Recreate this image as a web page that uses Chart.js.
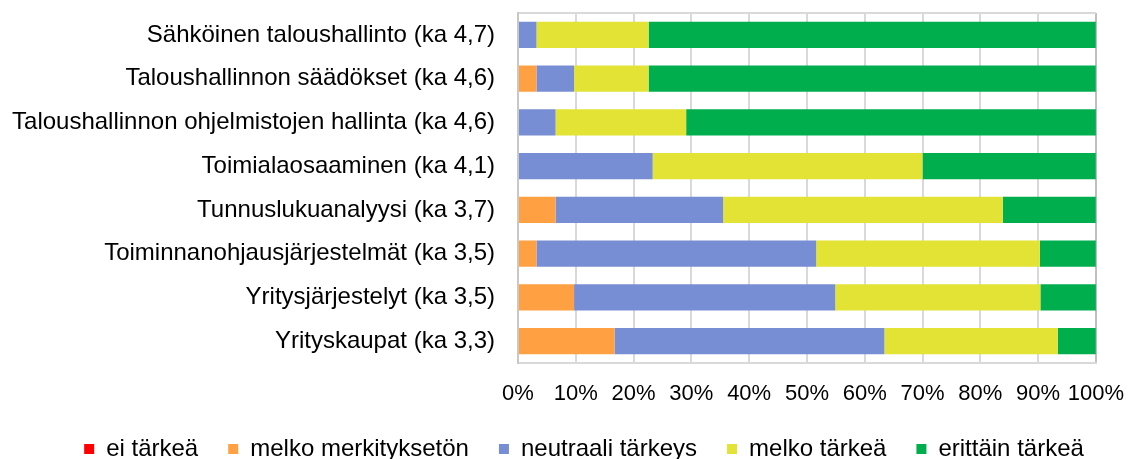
<!DOCTYPE html>
<html>
<head>
<meta charset="utf-8">
<script src="https://cdn.jsdelivr.net/npm/chart.js@4/dist/chart.umd.min.js"></script>
<style>
  html, body { margin: 0; padding: 0; background: #fff; }
  #wrap { width: 1142px; height: 459px; }
</style>
</head>
<body>
<div id="wrap"><canvas id="c" width="1142" height="459"></canvas></div>
<script>
const categories = [
  'Sähköinen taloushallinto (ka 4,7)',
  'Taloushallinnon säädökset (ka 4,6)',
  'Taloushallinnon ohjelmistojen hallinta (ka 4,6)',
  'Toimialaosaaminen (ka 4,1)',
  'Tunnuslukuanalyysi (ka 3,7)',
  'Toiminnanohjausjärjestelmät (ka 3,5)',
  'Yritysjärjestelyt (ka 3,5)',
  'Yrityskaupat (ka 3,3)'
];
const seriesNames = ['ei tärkeä', 'melko merkityksetön', 'neutraali tärkeys', 'melko tärkeä', 'erittäin tärkeä'];
const eiTarkea           = [0, 0, 0, 0, 0, 0, 0, 0];
const melkoMerkitykseton = [0, 3.2, 0, 0, 6.5, 3.2, 9.7, 16.7];
const neutraaliTarkeys   = [3.2, 6.5, 6.5, 23.3, 29.0, 48.4, 45.2, 46.7];
const melkoTarkea        = [19.4, 12.9, 22.6, 46.7, 48.4, 38.7, 35.5, 30.0];
const erittainTarkea     = [77.4, 77.4, 71.0, 30.0, 16.1, 9.7, 9.7, 6.6];
const tickValues = [0, 10, 20, 30, 40, 50, 60, 70, 80, 90, 100];

const colors = ['#FF0000', '#FFA043', '#788ED4', '#E3E336', '#00AE4E'];
const seriesData = [eiTarkea, melkoMerkitykseton, neutraaliTarkeys, melkoTarkea, erittainTarkea];
const FONT = "'Liberation Sans', Arial, sans-serif";

const legendShift = {
  id: 'legendShift',
  afterLayout(chart) {
    const lg = chart.legend;
    if (!lg) return;
    lg.left += 35; lg.right += 35;
  }
};

new Chart(document.getElementById('c'), {
  type: 'bar',
  data: {
    labels: categories,
    datasets: seriesNames.map((n, i) => ({
      label: n,
      data: seriesData[i],
      backgroundColor: colors[i],
      borderWidth: 0,
      categoryPercentage: 1,
      barPercentage: 0.595
    }))
  },
  plugins: [legendShift],
  options: {
    indexAxis: 'y',
    responsive: false,
    animation: false,
    devicePixelRatio: 1,
    layout: { padding: { left: 0, right: 44, top: 13, bottom: -12 } },
    plugins: {
      tooltip: { enabled: false },
      legend: {
        position: 'bottom',
        labels: {
          boxWidth: 10,
          boxHeight: 10,
          padding: 30,
          color: '#000',
          font: { family: FONT, size: 24 }
        }
      }
    },
    scales: {
      x: {
        stacked: true,
        min: 0,
        max: 100,
        afterBuildTicks: s => { s.ticks = tickValues.map(v => ({ value: v })); },
        afterFit: s => { s.height = 44; },
        grid: {
          color: c => (c.index === 10 ? '#BFBFBF' : '#D9D9D9'),
          lineWidth: 2,
          drawTicks: false
        },
        border: { display: true, color: '#D9D9D9', width: 2 },
        ticks: {
          autoSkip: false,
          maxRotation: 0,
          padding: 18,
          color: '#000',
          font: { family: FONT, size: 22 },
          callback: v => v + '%'
        }
      },
      x2: {
        position: 'top',
        min: 0,
        max: 100,
        grid: { display: false, drawTicks: false },
        border: { display: true, color: '#D9D9D9', width: 2 },
        ticks: { display: false },
        afterFit: s => { s.height = 0; }
      },
      y: {
        stacked: true,
        afterFit: s => { s.width = 518; s.paddingTop = 0; s.paddingBottom = 0; },
        grid: { display: false, drawTicks: false },
        border: { display: true, color: '#C8C8C8', width: 2 },
        ticks: {
          padding: 23,
          color: '#000',
          font: { family: FONT, size: 24 }
        }
      }
    }
  }
});
</script>
</body>
</html>
